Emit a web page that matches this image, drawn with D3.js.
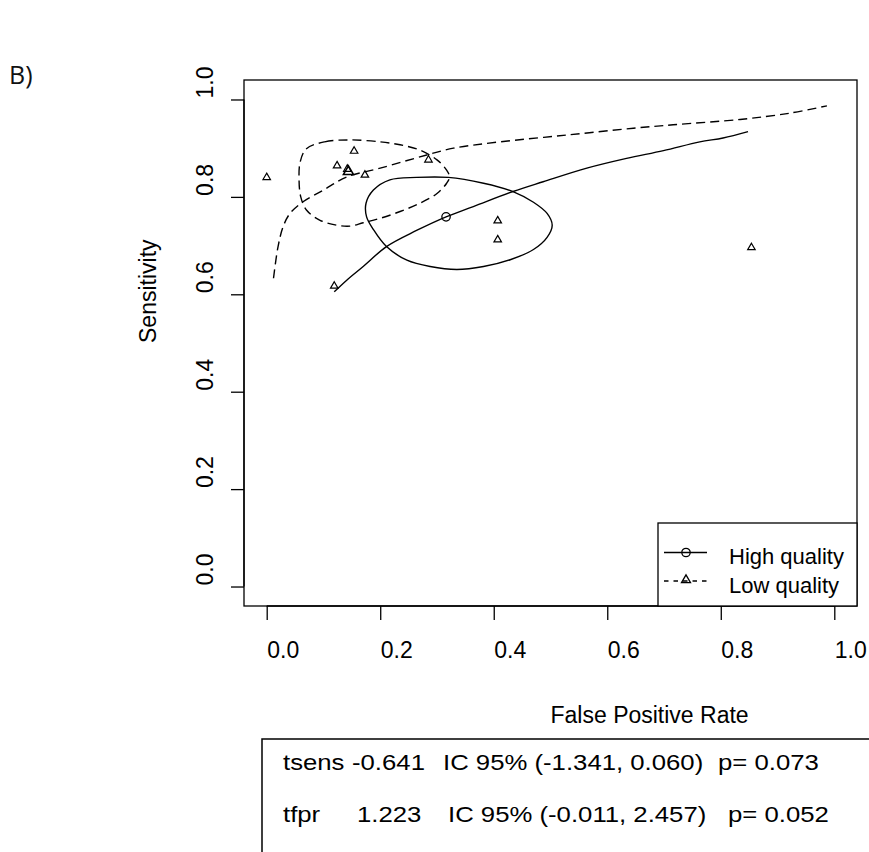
<!DOCTYPE html>
<html><head><meta charset="utf-8">
<script src="https://cdn.jsdelivr.net/npm/d3@7"></script>
<style>body{margin:0;background:#fff}svg{display:block}</style>
</head><body>
<svg id="chart" width="869" height="852"></svg>
<script>
// ---- data ----
const tickValues = [0, 0.2, 0.4, 0.6, 0.8, 1.0];
const tickLabels = ["0.0", "0.2", "0.4", "0.6", "0.8", "1.0"];
const seriesNames = ["High quality", "Low quality"];

// individual studies (triangles)
const studyFPR  = [0.000, 0.124, 0.154, 0.142, 0.173, 0.285, 0.119, 0.407, 0.407, 0.854];
const studySens = [0.840, 0.864, 0.894, 0.857, 0.845, 0.876, 0.617, 0.751, 0.712, 0.696];

// summary points
const summaryHigh = [0.316, 0.759];
const summaryLow  = [0.144, 0.852];

// SROC curves
const srocHighFPR  = [0.119, 0.141, 0.170, 0.211, 0.264, 0.316, 0.364, 0.434, 0.487, 0.564, 0.634, 0.699, 0.763, 0.804, 0.848];
const srocHighSens = [0.605, 0.629, 0.657, 0.698, 0.731, 0.759, 0.780, 0.811, 0.831, 0.859, 0.879, 0.895, 0.913, 0.921, 0.934];
const srocLowFPR   = [0.012, 0.020, 0.029, 0.041, 0.064, 0.100, 0.141, 0.200, 0.282, 0.329, 0.411, 0.529, 0.646, 0.716, 0.834, 0.922, 0.987];
const srocLowSens  = [0.633, 0.698, 0.739, 0.766, 0.790, 0.814, 0.841, 0.859, 0.886, 0.900, 0.913, 0.927, 0.941, 0.948, 0.959, 0.972, 0.987];

// confidence regions
const ellHighFPR  = [0.264, 0.320, 0.382, 0.434, 0.470, 0.494, 0.503, 0.494, 0.470, 0.429, 0.382, 0.335, 0.288, 0.247, 0.211, 0.188, 0.176, 0.175, 0.188, 0.217];
const ellHighSens = [0.840, 0.840, 0.828, 0.811, 0.789, 0.766, 0.742, 0.717, 0.692, 0.671, 0.657, 0.651, 0.657, 0.670, 0.698, 0.733, 0.759, 0.787, 0.814, 0.835];
const ellLowFPR   = [0.070, 0.102, 0.147, 0.200, 0.235, 0.270, 0.300, 0.317, 0.322, 0.317, 0.300, 0.270, 0.235, 0.200, 0.170, 0.147, 0.123, 0.094, 0.070, 0.060, 0.057, 0.059];
const ellLowSens  = [0.899, 0.913, 0.917, 0.913, 0.907, 0.896, 0.876, 0.855, 0.841, 0.828, 0.807, 0.787, 0.770, 0.756, 0.747, 0.740, 0.742, 0.752, 0.773, 0.800, 0.835, 0.872];

// statistics box
const statLines = [
  ["tsens", "-0.641", "IC 95% (-1.341, 0.060)", "p= 0.073"],
  ["tfpr",  "1.223",  "IC 95% (-0.011, 2.457)", "p= 0.052"]
];

// ---- drawing ----
const svg = d3.select("#chart");
const FONT = "'Liberation Sans', Arial, Helvetica, sans-serif";
const L = 244, R = 857, T = 80, B = 606;
const x = d3.scaleLinear().domain([-0.04, 1.04]).range([L, R]);
const y = d3.scaleLinear().domain([-0.04, 1.04]).range([B, T]);

svg.append("rect").attr("width", 869).attr("height", 852).attr("fill", "#fff");

// panel label
svg.append("text").attr("x", 9).attr("y", 84).attr("font-family", "'Open Sans', 'Noto Sans', sans-serif")
  .attr("font-size", 25).attr("fill", "#111").text("B)");

const zip = (a, b) => a.map((v, i) => [v, b[i]]);
const lineOpen = d3.line().x(d => x(d[0])).y(d => y(d[1])).curve(d3.curveCatmullRom.alpha(0.5));
const lineClosed = d3.line().x(d => x(d[0])).y(d => y(d[1])).curve(d3.curveCatmullRomClosed.alpha(0.5));

const plot = svg.append("g");
const DASH = "9,5";

// ellipses
plot.append("path").attr("d", lineClosed(zip(ellHighFPR, ellHighSens)))
  .attr("fill", "none").attr("stroke", "#000").attr("stroke-width", 1.4);
plot.append("path").attr("d", lineClosed(zip(ellLowFPR, ellLowSens)))
  .attr("fill", "none").attr("stroke", "#000").attr("stroke-width", 1.4).attr("stroke-dasharray", DASH);

// SROC curves
plot.append("path").attr("d", lineOpen(zip(srocHighFPR, srocHighSens)))
  .attr("fill", "none").attr("stroke", "#000").attr("stroke-width", 1.4);
plot.append("path").attr("d", lineOpen(zip(srocLowFPR, srocLowSens)))
  .attr("fill", "none").attr("stroke", "#000").attr("stroke-width", 1.4).attr("stroke-dasharray", DASH);

function triPath(w) {
  const h = w * 0.866;
  return `M0,${-h * 2 / 3}L${w / 2},${h / 3}L${-w / 2},${h / 3}Z`;
}

// study triangles
plot.selectAll(".study").data(zip(studyFPR, studySens)).enter().append("path")
  .attr("class", "study")
  .attr("transform", d => `translate(${x(d[0])},${y(d[1])})`)
  .attr("d", triPath(7.5))
  .attr("fill", "none").attr("stroke", "#000").attr("stroke-width", 1.2);

// summary points
plot.append("path").attr("transform", `translate(${x(summaryLow[0])},${y(summaryLow[1])})`)
  .attr("d", triPath(10)).attr("fill", "none").attr("stroke", "#000").attr("stroke-width", 1.6);
plot.append("circle").attr("cx", x(summaryHigh[0])).attr("cy", y(summaryHigh[1])).attr("r", 4.2)
  .attr("fill", "none").attr("stroke", "#000").attr("stroke-width", 1.3);

// plot frame
svg.append("rect").attr("x", L).attr("y", T).attr("width", R - L).attr("height", B - T)
  .attr("fill", "none").attr("stroke", "#000").attr("stroke-width", 1.3);

// x axis (labels start at the tick position, as in the reference)
const xAxis = svg.append("g").attr("transform", `translate(0,${B})`)
  .call(d3.axisBottom(x).tickValues(tickValues).tickSize(14).tickSizeOuter(0).tickFormat((d, i) => tickLabels[i]));
xAxis.select(".domain").attr("d", `M${x(0)},0H${x(1)}`).attr("stroke-width", 1.3);
xAxis.selectAll(".tick line").attr("stroke-width", 1.3);
xAxis.selectAll(".tick text").attr("font-family", FONT).attr("font-size", 23).attr("fill", "#000")
  .attr("text-anchor", "start").attr("x", 0).attr("y", 52).attr("dy", 0);

// y axis
const yAxis = svg.append("g").attr("transform", `translate(${L},0)`)
  .call(d3.axisLeft(y).tickValues(tickValues).tickSize(13).tickSizeOuter(0).tickFormat(""));
yAxis.select(".domain").attr("d", `M0,${y(0)}V${y(1)}`).attr("stroke-width", 1.3);
yAxis.selectAll(".tick line").attr("stroke-width", 1.3);
svg.append("g").selectAll("text").data(tickValues).enter().append("text")
  .attr("transform", d => `translate(213,${y(d) - 1}) rotate(-90)`)
  .attr("text-anchor", "start").attr("font-family", FONT).attr("font-size", 23).attr("fill", "#000")
  .text((d, i) => tickLabels[i]);

// axis titles
svg.append("text").attr("x", (L + R) / 2).attr("y", 723).attr("text-anchor", "start")
  .attr("font-family", FONT).attr("font-size", 23).attr("fill", "#000").text("False Positive Rate");
svg.append("text").attr("transform", `translate(156,${(T + B) / 2}) rotate(-90)`).attr("text-anchor", "start")
  .attr("font-family", FONT).attr("font-size", 23).attr("fill", "#000").text("Sensitivity");

// legend
const lg = svg.append("g");
lg.append("rect").attr("x", 658).attr("y", 523).attr("width", R - 658).attr("height", B - 523)
  .attr("fill", "#fff").attr("stroke", "#000").attr("stroke-width", 1.3);
const legY = [552.5, 581];
lg.append("line").attr("x1", 664).attr("x2", 707).attr("y1", legY[0]).attr("y2", legY[0])
  .attr("stroke", "#000").attr("stroke-width", 1.3);
lg.append("circle").attr("cx", 686).attr("cy", legY[0]).attr("r", 4.2).attr("fill", "none").attr("stroke", "#000").attr("stroke-width", 1.3);
lg.append("line").attr("x1", 664).attr("x2", 707).attr("y1", legY[1]).attr("y2", legY[1])
  .attr("stroke", "#000").attr("stroke-width", 1.3).attr("stroke-dasharray", "4.5,5");
lg.append("path").attr("transform", `translate(686,${legY[1] - 1})`).attr("d", triPath(9))
  .attr("fill", "none").attr("stroke", "#000").attr("stroke-width", 1.3);
lg.selectAll(".lt").data(seriesNames).enter().append("text")
  .attr("x", 729).attr("y", (d, i) => legY[i] + 11.5)
  .attr("font-family", FONT).attr("font-size", 22).attr("fill", "#000").text(d => d);

// statistics box
svg.append("rect").attr("x", 262).attr("y", 739).attr("width", 700).attr("height", 200)
  .attr("fill", "none").attr("stroke", "#000").attr("stroke-width", 1.5);
const colX = [[283, 352, 443, 718], [283, 357, 448, 728]];
const rowY = [770, 822];
statLines.forEach((row, r) => {
  row.forEach((s, c) => {
    svg.append("text").attr("transform", `translate(${colX[r][c]},${rowY[r]}) scale(1.144,1)`)
      .attr("font-family", FONT).attr("font-size", 22.5).attr("fill", "#000").text(s);
  });
});
</script>
</body></html>
